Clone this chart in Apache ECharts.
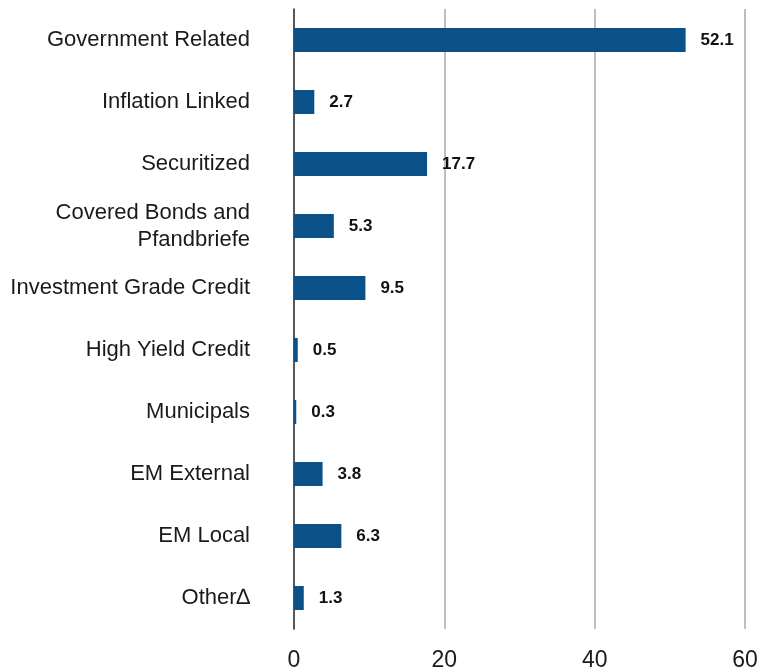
<!DOCTYPE html>
<html>
<head>
<meta charset="utf-8">
<script src="https://cdn.jsdelivr.net/npm/echarts@6/dist/echarts.min.js"></script>
<style>
html,body{margin:0;padding:0;background:#fff;}
#chart{width:764px;height:672px;}
</style>
</head>
<body>
<div id="chart"></div>
<script>
const categories = [
  'Government Related',
  'Inflation Linked',
  'Securitized',
  'Covered Bonds and\nPfandbriefe',
  'Investment Grade Credit',
  'High Yield Credit',
  'Municipals',
  'EM External',
  'EM Local',
  'Other\u2206'
];
const values = [52.1, 2.7, 17.7, 5.3, 9.5, 0.5, 0.3, 3.8, 6.3, 1.3];
const xTicks = [0, 20, 40, 60];

const FONT = '"Liberation Sans", Arial, sans-serif';
const chart = echarts.init(document.getElementById('chart'));
chart.setOption({
  animation: false,
  backgroundColor: '#ffffff',
  grid: { left: 294, right: 19, top: 9, bottom: 42, containLabel: false },
  xAxis: {
    type: 'value',
    min: xTicks[0],
    max: xTicks[xTicks.length - 1],
    interval: 20,
    axisLine: { show: false },
    axisTick: { show: false },
    axisLabel: { color: '#1a1a1a', fontFamily: FONT, fontSize: 23, margin: 20 },
    splitLine: { show: true, lineStyle: { color: '#a8a8a8', width: 1.5 } }
  },
  yAxis: {
    type: 'category',
    inverse: true,
    data: categories,
    axisLine: { show: true, lineStyle: { color: '#333333', width: 1.5 } },
    axisTick: { show: false },
    axisLabel: { color: '#1a1a1a', fontFamily: FONT, fontSize: 22, margin: 44, lineHeight: 27, align: 'right' }
  },
  series: [{
    type: 'bar',
    data: values,
    barWidth: 24,
    itemStyle: { color: '#0a5189' },
    label: {
      show: true,
      position: 'right',
      distance: 15,
      color: '#111',
      fontFamily: FONT,
      fontWeight: 'bold',
      fontSize: 17,
      formatter: p => p.value.toFixed(1)
    }
  }]
});
</script>
</body>
</html>
